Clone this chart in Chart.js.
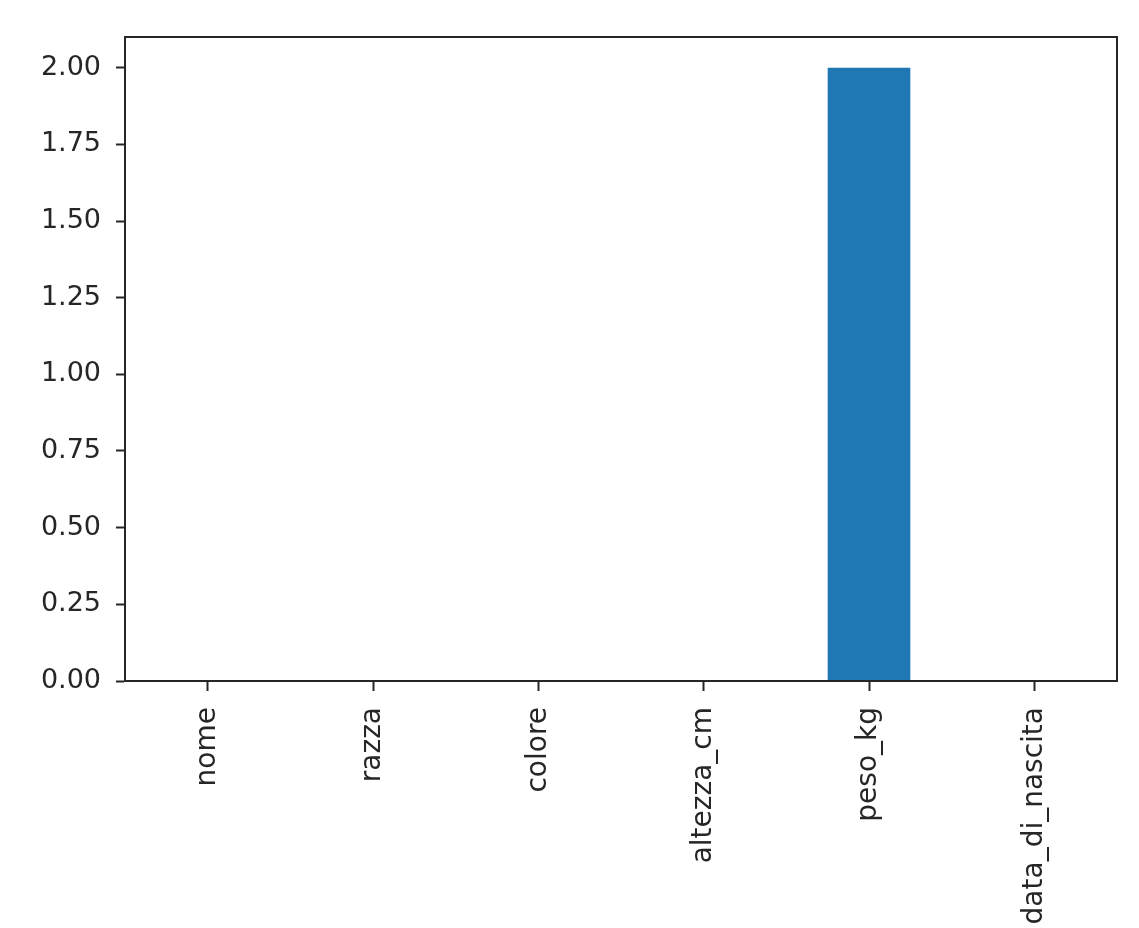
<!DOCTYPE html>
<html lang="en">
<head>
    <meta charset="UTF-8">
    <title>Conteggio colonne</title>
    <script src="https://cdn.jsdelivr.net/npm/chart.js"></script>
    <style>
        html, body { margin: 0; padding: 0; background: #ffffff; }
        #wrap { width: 1139px; height: 928px; }
    </style>
</head>
<body>
    <div id="wrap">
        <canvas id="barChart" width="1139" height="928"></canvas>
    </div>

    <script>
        const categories = ["nome", "razza", "colore", "altezza_cm", "peso_kg", "data_di_nascita"];
        const counts = [0, 0, 0, 0, 2, 0];
        const yTicks = [0, 0.25, 0.5, 0.75, 1.0, 1.25, 1.5, 1.75, 2.0];
        const yMax = 2.1;

        const axisColor = "#262626";

        // matplotlib style box around the plot area
        const frame = {
            id: "frame",
            afterDraw(chart) {
                const a = chart.chartArea;
                const ctx = chart.ctx;
                ctx.save();
                ctx.strokeStyle = axisColor;
                ctx.lineWidth = 2;
                ctx.strokeRect(a.left, a.top, a.right - a.left, a.bottom - a.top);
                ctx.restore();
            }
        };

        const ctx = document.getElementById("barChart").getContext("2d");
        new Chart(ctx, {
            type: "bar",
            data: {
                labels: categories,
                datasets: [{
                    data: counts,
                    backgroundColor: "#1f77b4",
                    borderWidth: 0,
                    barPercentage: 0.5,
                    categoryPercentage: 1.0
                }]
            },
            options: {
                responsive: false,
                animation: false,
                layout: { padding: { left: 0, top: 37, right: 22, bottom: 0 } },
                plugins: {
                    legend: { display: false },
                    tooltip: { enabled: false }
                },
                scales: {
                    x: {
                        offset: true,
                        grid: {
                            display: true,
                            drawOnChartArea: false,
                            drawTicks: true,
                            tickLength: 10,
                            tickWidth: 2,
                            color: axisColor,
                            offset: false
                        },
                        border: { display: true, color: axisColor, width: 2 },
                        ticks: {
                            color: axisColor,
                            font: { family: "DejaVu Sans", size: 28 },
                            minRotation: 90,
                            maxRotation: 90,
                            autoSkip: false,
                            padding: 16
                        },
                        afterFit(scale) { scale.height = 928 - 681; }
                    },
                    y: {
                        min: 0,
                        max: yMax,
                        grid: {
                            display: true,
                            drawOnChartArea: false,
                            drawTicks: true,
                            tickLength: 9,
                            tickWidth: 2,
                            color: axisColor
                        },
                        border: { display: true, color: axisColor, width: 2 },
                        ticks: {
                            color: axisColor,
                            font: { family: "DejaVu Sans", size: 27 },
                            padding: 15,
                            callback: (v) => Number(v).toFixed(2)
                        },
                        afterBuildTicks(scale) {
                            scale.ticks = yTicks.map(v => ({ value: v }));
                        },
                        afterFit(scale) { scale.width = 125; }
                    }
                }
            },
            plugins: [frame]
        });
    </script>
</body>
</html>
